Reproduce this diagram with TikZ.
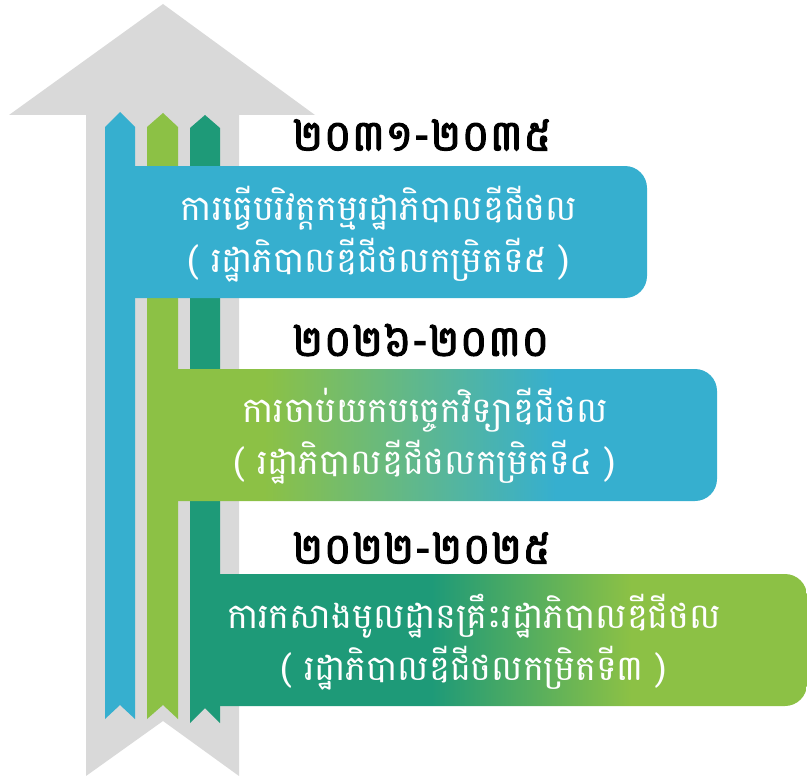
\documentclass[tikz,border=0pt]{standalone}
\usepackage{fontspec}
\newfontfamily\khmer[Script=Khmer]{Battambang}
\newfontfamily\khmeryear[Script=Khmer, FakeBold=2.5]{Battambang}
\definecolor{stageblue}{HTML}{36AFCF}
\definecolor{stagegreen}{HTML}{8CC145}
\definecolor{stageteal}{HTML}{1E9A78}
\definecolor{arrowgray}{HTML}{D9D9D9}
\pgfdeclarehorizontalshading{greentoblue}{100bp}{color(0bp)=(stagegreen); color(33bp)=(stagegreen); color(60bp)=(stageblue); color(100bp)=(stageblue)}
\pgfdeclarehorizontalshading{tealtogreen}{100bp}{color(0bp)=(stageteal); color(43bp)=(stageteal); color(60bp)=(stagegreen); color(100bp)=(stagegreen)}
\tikzset{
    year/.style={anchor=west, inner sep=0pt, font=\khmeryear\fontsize{43}{43}\selectfont},
    stagetext/.style={align=center, text=white, inner sep=0pt, font=\khmer\fontsize{35}{52}\selectfont}
}

\begin{document}
\begin{tikzpicture}[x=1pt, y=-1pt]
    \useasboundingbox (0, 0) rectangle (807, 776);
    \fill[arrowgray] (163, 4) -- (315, 115) -- (239, 115) -- (239, 776) -- (163, 721) -- (86, 776) -- (86, 115) -- (9, 115) -- cycle;
    \fill[stageblue] (105, 127) -- (120, 112) -- (135, 127) -- (135, 719) -- (120, 705) -- (105, 719) -- cycle;
    \fill[stagegreen] (147, 127) -- (163, 113) -- (178, 127) -- (178, 719) -- (163, 705) -- (147, 719) -- cycle;
    \fill[stageteal] (190, 128) -- (205, 115) -- (220, 128) -- (220, 723) -- (205, 708) -- (190, 723) -- cycle;
    \fill[stageblue] (135, 166) [rounded corners=22pt] -- (647, 166) -- (647, 298) [sharp corners] -- (135, 298) -- cycle;
    \shade[shading=greentoblue] (178, 369) [rounded corners=22pt] -- (717, 369) -- (717, 501) [sharp corners] -- (178, 501) -- cycle;
    \shade[shading=tealtogreen] (220, 574) [rounded corners=22pt] -- (807, 574) -- (807, 706) [sharp corners] -- (220, 706) -- cycle;
    \node[year] (year5) at (292, 135) {២០៣១-២០៣៥};
    \node[year] (year4) at (292, 340) {២០២៦-២០៣០};
    \node[year] (year3) at (292, 548) {២០២២-២០២៥};
    \node[stagetext] (stage5) at (379, 234) {ការធ្វើបរិវត្តកម្មរដ្ឋាភិបាលឌីជីថល\\( រដ្ឋាភិបាលឌីជីថលកម្រិតទី៥ )};
    \node[stagetext] (stage4) at (425, 436) {ការចាប់យកបច្ចេកវិទ្យាឌីជីថល\\( រដ្ឋាភិបាលឌីជីថលកម្រិតទី៤ )};
    \node[stagetext] (stage3) at (474, 642) {ការកសាងមូលដ្ឋានគ្រឹះរដ្ឋាភិបាលឌីជីថល\\( រដ្ឋាភិបាលឌីជីថលកម្រិតទី៣ )};
\end{tikzpicture}
\end{document}
